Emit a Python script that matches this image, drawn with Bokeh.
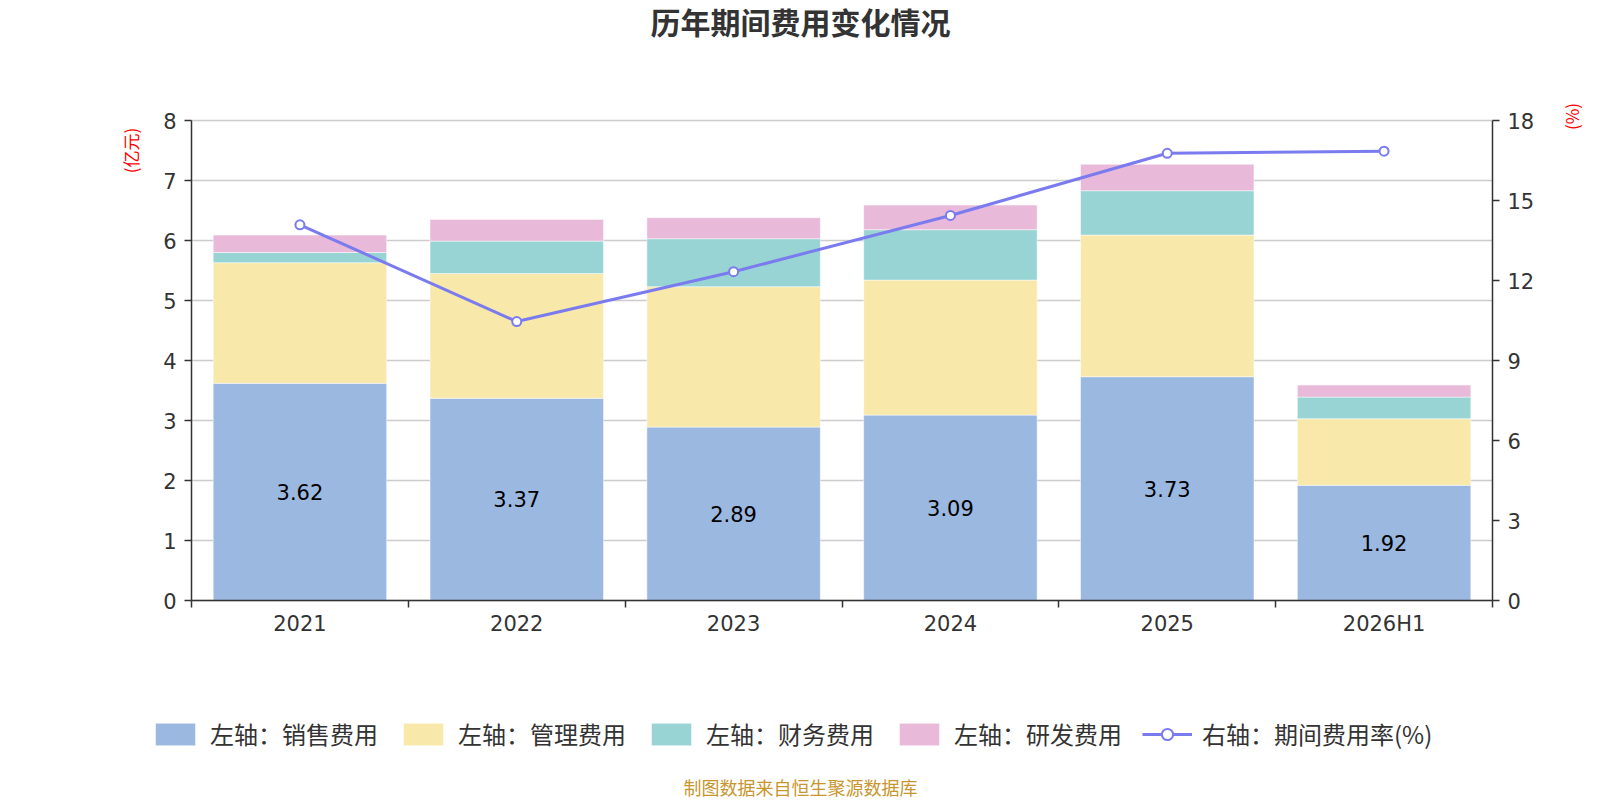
import math
from bokeh.plotting import figure
from bokeh.models import (ColumnDataSource, Range1d, LinearAxis, FixedTicker, Label,
                          Legend, LegendItem, LabelSet)
from bokeh.core.properties import value
from bokeh.embed import file_html
from bokeh.resources import INLINE

# ---- data ----
years = ["2021", "2022", "2023", "2024", "2025", "2026H1"]
sales = [3.62, 3.37, 2.89, 3.09, 3.73, 1.92]
admin = [2.01, 2.08, 2.34, 2.25, 2.36, 1.11]
finance = [0.17, 0.54, 0.80, 0.84, 0.74, 0.36]
rnd = [0.29, 0.36, 0.35, 0.41, 0.44, 0.20]
rate = [14.09, 10.46, 12.33, 14.44, 16.77, 16.85]
left_ticks = [0, 1, 2, 3, 4, 5, 6, 7, 8]
right_ticks = [0, 3, 6, 9, 12, 15, 18]
series_names = ["左轴：销售费用", "左轴：管理费用", "左轴：财务费用", "左轴：研发费用"]
line_name = "右轴：期间费用率(%)"

# ---- layout (pixels) ----
W, H = 1600, 800
PL, PR, PT, PB = 191, 108, 120, 200     # plot-area borders
n = len(years)
pw, ph = W - PL - PR, H - PT - PB
ymax, y2max = left_ticks[-1], right_ticks[-1]
xu = pw / n
yu, y2u = ph / ymax, ph / y2max

CJK = "Noto Sans CJK SC"
NUM = "DejaVu Sans"
TXT = "#333333"
colors = ["#9bb8e1", "#f8e8aa", "#98d4d4", "#e8b9d8"]
line_color = "#7b7bf0"

xs = [i + 0.5 for i in range(n)]
src = ColumnDataSource(dict(x=xs, sales=sales, admin=admin, finance=finance, rnd=rnd,
                            rate=rate, lab_y=[s / 2 for s in sales],
                            lab=[f"{s:.2f}" for s in sales]))

p = figure(width=W, height=H, output_backend="svg", toolbar_location=None, title=None,
           x_axis_location=None, y_axis_location=None,
           x_range=Range1d(-PL / xu, n + PR / xu),
           y_range=Range1d(-PB / yu, ymax + PT / yu),
           min_border=0)
p.outline_line_color = None
p.extra_y_ranges = {"y2": Range1d(-PB / y2u, y2max + PT / y2u)}
p.xgrid.visible = False
p.ygrid.visible = False

# grid lines at the left-axis ticks, spanning the category range
p.segment(x0=[0] * len(left_ticks), x1=[n] * len(left_ticks), y0=left_ticks, y1=left_ticks,
          line_color="#cccccc", line_width=1.5)

bars = p.vbar_stack(["sales", "admin", "finance", "rnd"], x="x", width=0.8, source=src,
                    color=colors, line_color="white", line_width=0.5)
ln = p.line("x", "rate", source=src, y_range_name="y2", color=line_color, line_width=3)
sc = p.scatter("x", "rate", source=src, y_range_name="y2", size=9, fill_color="white",
               line_color=line_color, line_width=2)

p.add_layout(LabelSet(x="x", y="lab_y", text="lab", source=src, text_align="center",
                      text_baseline="middle", text_font_size="21px", text_color="black",
                      text_font=value(NUM)))

# axes
xax = LinearAxis(fixed_location=0, bounds=(0, n),
                 ticker=FixedTicker(ticks=xs, minor_ticks=list(range(n + 1))))
xax.major_label_overrides = {x: y for x, y in zip(xs, years)}
xax.major_tick_line_color = None
xax.minor_tick_out = 7
xax.minor_tick_in = 0
xax.minor_tick_line_color = TXT
xax.minor_tick_line_width = 1.5
p.add_layout(xax, "below")

yax = LinearAxis(fixed_location=0, bounds=(0, ymax), ticker=FixedTicker(ticks=left_ticks))
p.add_layout(yax, "left")
rax = LinearAxis(y_range_name="y2", fixed_location=n, bounds=(0, y2max),
                 ticker=FixedTicker(ticks=right_ticks))
p.add_layout(rax, "right")

for ax in (xax, yax, rax):
    ax.axis_line_color = TXT
    ax.axis_line_width = 1.5
    ax.major_label_text_font = NUM
    ax.major_label_text_font_size = "21px"
    ax.major_label_text_color = TXT
    ax.major_label_standoff = 8
xax.major_label_standoff = 4
for ax in (yax, rax):
    ax.major_tick_line_color = TXT
    ax.major_tick_line_width = 1.5
    ax.major_tick_out = 7
    ax.major_tick_in = 0
    ax.minor_tick_line_color = None

# texts (screen px from bottom-left)
p.add_layout(Label(x=W / 2, y=H - 20, x_units="screen", y_units="screen",
                   text="历年期间费用变化情况", text_align="center", text_baseline="middle",
                   text_font=CJK, text_font_size="30px", text_font_style="bold", text_color=TXT))
p.add_layout(Label(x=129.5, y=H - 150, x_units="screen", y_units="screen", text="(亿元)",
                   angle=math.pi / 2, text_align="center", text_baseline="middle",
                   text_font=CJK, text_font_size="17px", text_color="red"))
p.add_layout(Label(x=1571, y=H - 116, x_units="screen", y_units="screen", text="(%)",
                   angle=math.pi / 2, text_align="center", text_baseline="middle",
                   text_font=CJK, text_font_size="17px", text_color="red"))
p.add_layout(Label(x=W / 2, y=14, x_units="screen", y_units="screen",
                   text="制图数据来自恒生聚源数据库", text_align="center", text_baseline="middle",
                   text_font=CJK, text_font_size="18px", text_color="#c8962e"))

items = [LegendItem(label=l, renderers=[r]) for l, r in zip(series_names, bars)]
items.append(LegendItem(label=line_name, renderers=[ln, sc]))
leg = Legend(items=items, orientation="horizontal", location=(150, 49),
             glyph_width=50, glyph_height=28, label_height=28, label_standoff=10, spacing=20,
             label_text_font=CJK, label_text_font_size="24px", label_text_color=TXT,
             padding=0, margin=0, border_line_color=None, background_fill_alpha=0)
p.add_layout(leg, "center")

open("out.html", "w").write(file_html(p, INLINE))
